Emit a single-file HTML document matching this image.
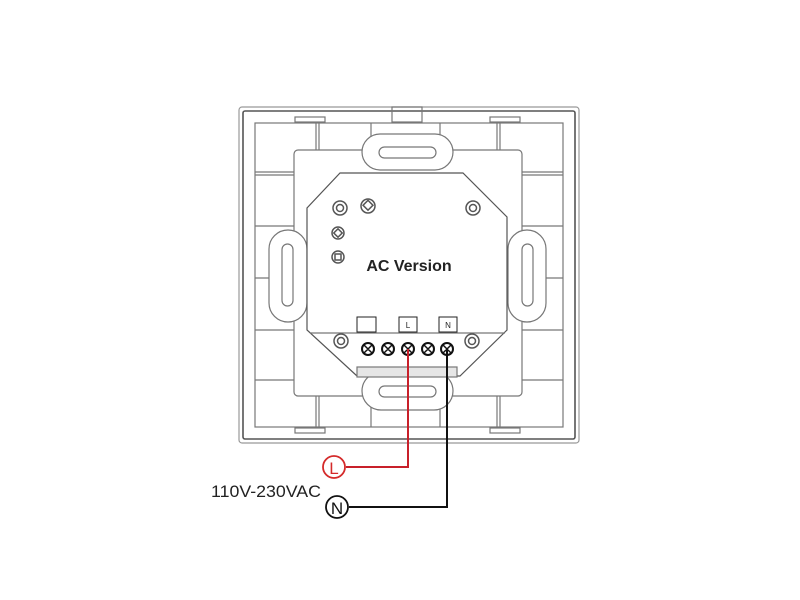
<!DOCTYPE html>
<html><head><style>body{margin:0;background:#fff}svg{display:block}</style></head><body>
<svg width="800" height="600" viewBox="0 0 800 600" xmlns="http://www.w3.org/2000/svg">
<g fill="none" stroke="#777" stroke-width="1.2">
<rect x="239" y="107" width="340" height="336" rx="3" stroke="#999"/>
<rect x="243" y="111" width="332" height="328" rx="2" stroke="#555" stroke-width="1.6"/>
<rect x="255" y="123" width="308" height="304"/>
<line x1="255" y1="172" x2="294" y2="172"/><line x1="255" y1="175" x2="294" y2="175"/>
<line x1="521" y1="172" x2="563" y2="172"/><line x1="521" y1="175" x2="563" y2="175"/>
<line x1="255" y1="226" x2="294" y2="226"/><line x1="521" y1="226" x2="563" y2="226"/>
<line x1="255" y1="278" x2="294" y2="278"/><line x1="521" y1="278" x2="563" y2="278"/>
<line x1="255" y1="330" x2="294" y2="330"/><line x1="521" y1="330" x2="563" y2="330"/>
<line x1="255" y1="380" x2="294" y2="380"/><line x1="521" y1="380" x2="563" y2="380"/>
<line x1="316" y1="123" x2="316" y2="150"/><line x1="319" y1="123" x2="319" y2="150"/>
<line x1="371" y1="123" x2="371" y2="150"/><line x1="440" y1="123" x2="440" y2="150"/>
<line x1="497" y1="123" x2="497" y2="150"/><line x1="500" y1="123" x2="500" y2="150"/>
<line x1="316" y1="396" x2="316" y2="427"/><line x1="319" y1="396" x2="319" y2="427"/>
<line x1="371" y1="396" x2="371" y2="427"/><line x1="440" y1="396" x2="440" y2="427"/>
<line x1="497" y1="396" x2="497" y2="427"/><line x1="500" y1="396" x2="500" y2="427"/>
<rect x="295" y="117" width="30" height="5"/><rect x="490" y="117" width="30" height="5"/>
<rect x="295" y="428" width="30" height="5"/><rect x="490" y="428" width="30" height="5"/>
<rect x="392" y="107" width="30" height="15"/>
<rect x="294" y="150" width="228" height="246" rx="4" fill="#fff"/>
<rect x="362" y="134" width="91" height="36" rx="18" fill="#fff"/>
<rect x="379" y="147" width="57" height="11" rx="5.5"/>
<rect x="362" y="372" width="91" height="38" rx="19" fill="#fff"/>
<rect x="379" y="386" width="57" height="11" rx="5.5"/>
<rect x="269" y="230" width="38" height="92" rx="19" fill="#fff"/>
<rect x="282" y="244" width="11" height="62" rx="5.5"/>
<rect x="508" y="230" width="38" height="92" rx="19" fill="#fff"/>
<rect x="522" y="244" width="11" height="62" rx="5.5"/>
<polygon points="340,173 463,173 507,217 507,330 460,376 357,376 307,330 307,208" fill="#fff" stroke="#555"/>
<line x1="310" y1="333" x2="505" y2="333"/>
<rect x="357" y="367" width="100" height="10" fill="#e6e6e6"/>
</g>
<g fill="#fff" stroke="#555" stroke-width="1.5">
<circle cx="340" cy="208" r="7"/><circle cx="340" cy="208" r="3.5"/>
<circle cx="368" cy="206" r="7"/><rect x="364" y="202" width="7" height="7" transform="rotate(45 368 206)"/>
<circle cx="473" cy="208" r="7"/><circle cx="473" cy="208" r="3.5"/>
<circle cx="338" cy="233" r="6"/><rect x="335" y="230" width="6" height="6" transform="rotate(45 338 233)"/>
<circle cx="338" cy="257" r="6"/><rect x="335" y="254" width="6" height="6"/>
<circle cx="341" cy="341" r="7"/><circle cx="341" cy="341" r="3.5"/>
<circle cx="472" cy="341" r="7"/><circle cx="472" cy="341" r="3.5"/>
</g>
<g stroke="#111" stroke-width="2" fill="#fff">
<circle cx="368" cy="349" r="6"/><circle cx="388" cy="349" r="6"/><circle cx="408" cy="349" r="6"/><circle cx="428" cy="349" r="6"/><circle cx="447" cy="349" r="6"/>
<path d="M364 345l8 8M372 345l-8 8M384 345l8 8M392 345l-8 8M404 345l8 8M412 345l-8 8M424 345l8 8M432 345l-8 8M443 345l8 8M451 345l-8 8" stroke-width="1.5"/>
</g>
<g stroke="#222" fill="#fff" stroke-width="1">
<rect x="357" y="317" width="19" height="15"/><rect x="399" y="317" width="18" height="15"/><rect x="439" y="317" width="18" height="15"/>
</g>
<g font-family="Liberation Sans, sans-serif" fill="#222">
<text x="408" y="328" font-size="8" text-anchor="middle">L</text>
<text x="448" y="328" font-size="8" text-anchor="middle">N</text>
<text x="409" y="271" font-size="16" font-weight="bold" text-anchor="middle">AC Version</text>
<text x="211" y="497" font-size="17" textLength="110" lengthAdjust="spacingAndGlyphs">110V-230VAC</text>
</g>
<polyline points="408,349 408,467 346,467" fill="none" stroke="#c8202a" stroke-width="2"/>
<polyline points="447,349 447,507 349,507" fill="none" stroke="#111" stroke-width="2"/>
<circle cx="334" cy="467" r="11" fill="#fff" stroke="#d42a2a" stroke-width="1.8"/>
<circle cx="337" cy="507" r="11" fill="#fff" stroke="#111" stroke-width="1.8"/>
<text x="334" y="474" font-family="Liberation Sans, sans-serif" font-size="17" fill="#d42a2a" text-anchor="middle">L</text>
<text x="337" y="514" font-family="Liberation Sans, sans-serif" font-size="17" fill="#111" text-anchor="middle">N</text>
</svg>
</body></html>
